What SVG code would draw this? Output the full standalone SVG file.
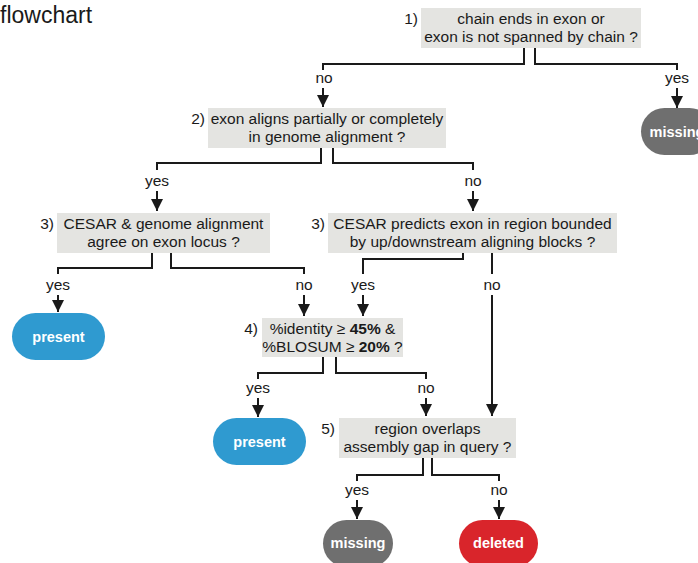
<svg xmlns="http://www.w3.org/2000/svg" width="698" height="563" viewBox="0 0 698 563">
<defs>
<marker id="ah" markerUnits="userSpaceOnUse" markerWidth="12" markerHeight="12" viewBox="0 0 12 12" refX="12" refY="6" orient="auto">
<path d="M0,0 L12,6 L0,12 Z" fill="#1a1a1a"/>
</marker>
</defs>
<style>
text{font-family:"Liberation Sans",Arial,sans-serif;font-size:15.5px;fill:#1a1a1a}
.t{font-size:23px}
.c{text-anchor:middle}
.e{text-anchor:end}
.box{fill:#e4e4e1}
.pill text{fill:#fff;font-weight:bold;text-anchor:middle;font-size:14.5px}
.conn path{fill:none;stroke:#1a1a1a;stroke-width:2}
.arr{stroke:#1a1a1a;stroke-width:2;marker-end:url(#ah)}
</style>
<rect width="698" height="563" fill="#fff"/>
<text class="t" x="0" y="23">flowchart</text>

<g id="q1"><rect class="box" x="421" y="8" width="220" height="40"/><text class="e" x="418" y="24">1)</text><text class="c" x="531" y="24">chain ends in exon or</text><text class="c" x="531" y="42">exon is not spanned by chain ?</text></g>
<g id="q2"><rect class="box" x="208" y="108" width="238" height="40"/><text class="e" x="205" y="124">2)</text><text class="c" x="327" y="124">exon aligns partially or completely</text><text class="c" x="327" y="142">in genome alignment ?</text></g>
<g id="q3a"><rect class="box" x="57" y="213" width="213" height="40"/><text class="e" x="54" y="229">3)</text><text class="c" x="163.5" y="229">CESAR &amp; genome alignment</text><text class="c" x="163.5" y="247">agree on exon locus ?</text></g>
<g id="q3b"><rect class="box" x="328" y="213" width="289" height="40"/><text class="e" x="325" y="229">3)</text><text class="c" x="472.5" y="229">CESAR predicts exon in region bounded</text><text class="c" x="472.5" y="247">by up/downstream aligning blocks ?</text></g>
<g id="q4"><rect class="box" x="262" y="318" width="141" height="39"/><text class="e" x="258" y="334">4)</text><text class="c" x="332.5" y="334">%identity ≥ <tspan font-weight="bold">45%</tspan> &amp;</text><text class="c" x="332.5" y="352">%BLOSUM ≥ <tspan font-weight="bold">20%</tspan> ?</text></g>
<g id="q5"><rect class="box" x="339" y="418" width="177" height="40"/><text class="e" x="335" y="434">5)</text><text class="c" x="427.5" y="434">region overlaps</text><text class="c" x="427.5" y="452">assembly gap in query ?</text></g>

<g id="missing1" class="pill"><rect x="641" y="108" width="72" height="47" rx="23.5" fill="#6f6f6f"/><text x="677" y="137">missing</text></g>
<g id="present1" class="pill"><rect x="12" y="313" width="93" height="47" rx="23.5" fill="#2f9ad0"/><text x="58.5" y="342">present</text></g>
<g id="present2" class="pill"><rect x="213" y="418" width="93" height="47" rx="23.5" fill="#2f9ad0"/><text x="259.5" y="447">present</text></g>
<g id="missing2" class="pill"><rect x="323" y="520" width="70" height="47" rx="23.5" fill="#6f6f6f"/><text x="358" y="548">missing</text></g>
<g id="deleted" class="pill"><rect x="459" y="520" width="79" height="47" rx="23.5" fill="#d9252b"/><text x="498.5" y="548">deleted</text></g>

<g id="connectors" class="conn">
<path d="M524,48 V64 H323 V70"/><text class="c" x="324" y="83">no</text><path class="arr" d="M323,88 V107"/>
<path d="M535,48 V64 H677 V70"/><text class="c" x="677" y="83">yes</text><path class="arr" d="M677,88 V108"/>
<path d="M321,148 V163 H157 V170"/><text class="c" x="157" y="186">yes</text><path class="arr" d="M157,191 V211"/>
<path d="M333,148 V163 H473 V170"/><text class="c" x="473" y="186">no</text><path class="arr" d="M473,191 V211"/>
<path d="M152,253 V268 H58 V274"/><text class="c" x="58" y="290">yes</text><path class="arr" d="M58,295 V312"/>
<path d="M171,253 V268 H304 V274"/><text class="c" x="304" y="290">no</text><path class="arr" d="M304,295 V316"/>
<path d="M463,253 V259 H363 V274"/><text class="c" x="363" y="290">yes</text><path class="arr" d="M363,295 V316"/>
<path d="M492,253 V274"/><text class="c" x="492" y="290">no</text><path class="arr" d="M492,295 V416"/>
<path d="M323,357 V373 H258 V379"/><text class="c" x="258" y="393">yes</text><path class="arr" d="M258,398 V417"/>
<path d="M336,357 V373 H426 V379"/><text class="c" x="426" y="393">no</text><path class="arr" d="M426,398 V416"/>
<path d="M423,458 V475 H357 V481"/><text class="c" x="357" y="495">yes</text><path class="arr" d="M357,500 V519"/>
<path d="M432,458 V475 H499 V481"/><text class="c" x="499" y="495">no</text><path class="arr" d="M499,500 V519"/>
</g>
</svg>
